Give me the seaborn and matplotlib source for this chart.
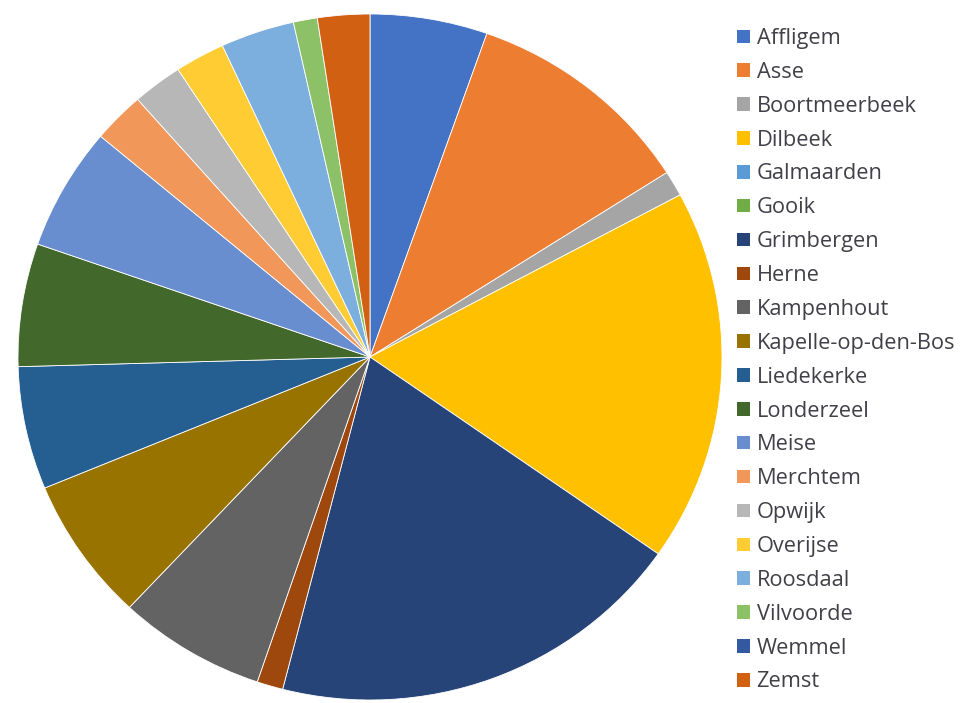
import matplotlib
matplotlib.use("Agg")
import matplotlib.pyplot as plt
import seaborn as sns

# Municipalities and their share of the total (percent)
gemeenten = [
    "Affligem", "Asse", "Boortmeerbeek", "Dilbeek", "Galmaarden", "Gooik",
    "Grimbergen", "Herne", "Kampenhout", "Kapelle-op-den-Bos", "Liedekerke",
    "Londerzeel", "Meise", "Merchtem", "Opwijk", "Overijse", "Roosdaal",
    "Vilvoorde", "Wemmel", "Zemst",
]
aandeel = [
    5.4, 10.6, 1.2, 17.6, 0.0, 0.0,
    19.3, 1.2, 6.8, 6.8, 5.8,
    5.8, 5.8, 2.4, 2.3, 2.3, 3.4,
    1.1, 0.0, 2.4,
]

# Office-style colour cycle
kleuren = [
    "#4472C4", "#ED7D31", "#A5A5A5", "#FFC000", "#5B9BD5", "#70AD47",
    "#264478", "#9E480E", "#636363", "#997300", "#255E91", "#43682B",
    "#698ED0", "#F1975A", "#B7B7B7", "#FFCD33", "#7CAFDD", "#8CC168",
    "#335AA1", "#D26012",
]

sns.set_theme(style="white")
plt.rcParams["font.family"] = ["Open Sans", "DejaVu Sans"]
palette = sns.color_palette(kleuren)

fig = plt.figure(figsize=(9.62, 7.03), dpi=100)
ax = fig.add_axes([18 / 962, 3 / 703, 704 / 962, 686 / 703])

wedges, _ = ax.pie(
    aandeel,
    colors=palette,
    startangle=90,
    counterclock=False,
    radius=1.0,
    wedgeprops=dict(edgecolor="white", linewidth=0.6),
)
for w, v in zip(wedges, aandeel):
    if v == 0:
        w.set_linewidth(0)
ax.set_aspect("auto")
ax.set_xlim(-1.0, 1.0)
ax.set_ylim(-1.0, 1.0)

leg = fig.legend(
    wedges,
    gemeenten,
    loc="upper left",
    bbox_to_anchor=(737 / 962, 1 - 28 / 703),
    frameon=False,
    fontsize=15.7,
    handlelength=0.58,
    handleheight=0.58,
    handletextpad=0.32,
    labelspacing=0.59,
    borderaxespad=0,
    borderpad=0,
)
for t in leg.get_texts():
    t.set_color("#404048")
for h in leg.legend_handles:
    h.set_linewidth(0)

fig.savefig("out.png", dpi=100, facecolor="white")
